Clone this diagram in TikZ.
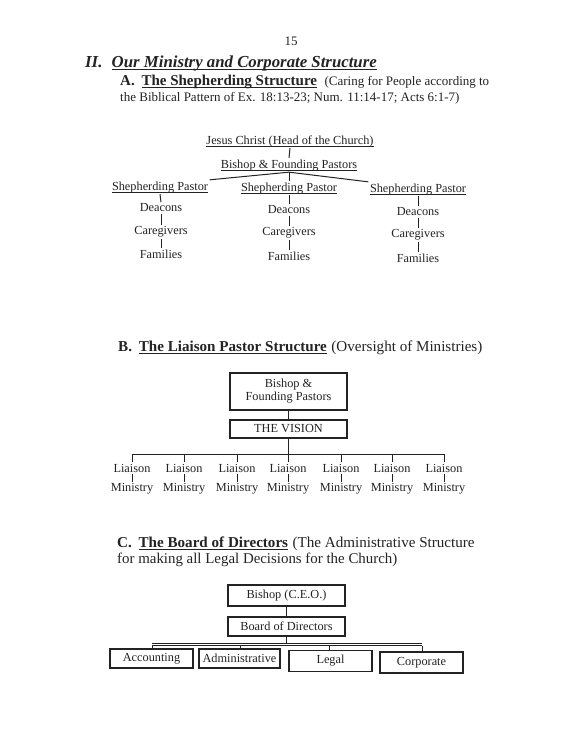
\documentclass[tikz,border=0pt]{standalone}
\usepackage{fontspec}
\newfontfamily\tnr{Liberation Serif}
\definecolor{ink}{RGB}{35,35,35}
\newcommand\chfont{\tnr\fontsize{12.3}{14}\selectfont}
% underline through the descenders, as in the scan
\newcommand\ulx[3]{\vtop{\hbox{\raisebox{0pt}[\height][0pt]{#3}}\kern#2\hrule height #1}}
\begin{document}
\begin{tikzpicture}[x=1pt,y=-1pt,
  txt/.style={text=ink,inner sep=0pt},
  chtext/.style={font=\chfont,text=ink,inner sep=1.5pt},
  conn/.style={draw=ink,line width=1pt},
  boxb/.style={draw=ink,line width=1.3pt,font=\chfont,text=ink,inner sep=1pt,align=center},
  boxc/.style={draw=ink,line width=1.5pt,font=\chfont,text=ink,inner sep=1pt,align=center}]
\fill[white] (0,0) rectangle (575,744);
\useasboundingbox (0,0) rectangle (575,744);

% page number and headings
\node[txt] (pg) at (291,41) {\tnr\fontsize{13}{15}\selectfont 15};
\node[txt,anchor=base west] (h2) at (85,67) {\tnr\fontsize{16.8}{18}\selectfont\bfseries\itshape II.\hspace{0.55em}\ulx{1pt}{2.2pt}{Our Ministry and Corporate Structure}};
\node[txt,anchor=base west] (ha1) at (120,85) {\tnr\fontsize{15}{16}\selectfont\textbf{A.\hspace{0.45em}\ulx{1pt}{1.6pt}{The Shepherding Structure}}\hspace{0.5em}\fontsize{13}{14}\selectfont(Caring for People according to};
\node[txt,anchor=base west] (ha2) at (120,101.5) {\tnr\fontsize{13}{14}\selectfont the Biblical Pattern of Ex. 18:13-23; Num. 11:14-17; Acts 6:1-7)};

% chart A
\node[chtext] (jc) at (290,141) {\ulx{0.6pt}{1.8pt}{Jesus Christ (Head of the Church)}};
\node[chtext] (bp) at (289,165) {\ulx{0.6pt}{1.8pt}{Bishop \& Founding Pastors}};
\node[chtext] (sp1) at (160,187) {\ulx{0.6pt}{1.8pt}{Shepherding Pastor}};
\node[chtext] (sp2) at (289,188) {\ulx{0.6pt}{1.8pt}{Shepherding Pastor}};
\node[chtext] (sp3) at (418,189) {\ulx{0.6pt}{1.8pt}{Shepherding Pastor}};
\node[chtext] (d1) at (161,208) {Deacons};
\node[chtext] (c1) at (161,232) {Caregivers};
\node[chtext] (f1) at (161,254) {Families};
\node[chtext] (d2) at (289,210) {Deacons};
\node[chtext] (c2) at (289,233) {Caregivers};
\node[chtext] (f2) at (289,256) {Families};
\node[chtext] (d3) at (418,212) {Deacons};
\node[chtext] (c3) at (418,235) {Caregivers};
\node[chtext] (f3) at (418,258) {Families};
\draw[conn] (jc.south) -- (bp.north);
\draw[conn] (bp.south) -- (sp1.north east);
\draw[conn] (bp.south) -- (sp2.north);
\draw[conn] (bp.south) -- (sp3.north west);
\foreach \i in {1,2,3}{
  \draw[conn] (sp\i.south) -- (d\i.north);
  \draw[conn] (d\i.south) -- (c\i.north);
  \draw[conn] (c\i.south) -- (f\i.north);
}

% heading B
\node[txt,anchor=base west] (hb) at (118,351) {\tnr\fontsize{15.1}{18}\selectfont\textbf{B.\hspace{0.45em}\ulx{1pt}{1.8pt}{The Liaison Pastor Structure}}\hspace{0.3em}(Oversight of Ministries)};

% chart B
\node[boxb,minimum width=117pt,minimum height=37pt] (bfp) at (288.5,391.5) {Bishop \&\\[-1pt]Founding Pastors};
\node[boxb,minimum width=117pt,minimum height=18pt] (vis) at (288.5,429) {THE VISION};
\draw[conn] (bfp.south) -- (vis.north);
\coordinate (busb) at (288.5,454);
\coordinate (bbl) at (132,454);
\coordinate (bbr) at (444,454);
\draw[conn] (vis.south) -- (busb);
\draw[conn] (bbl) -- (bbr);
\foreach \x [count=\i] in {132,184,237,288,341,392,444}{
  \node[chtext] (l\i) at (\x,468) {Liaison};
  \node[chtext] (m\i) at (\x,489) {Ministry};
  \coordinate (t\i) at (\x,454);
  \draw[conn] (t\i) -- (l\i.north);
  \draw[conn] (l\i.south) -- (m\i.north);
}

% heading C
\node[txt,anchor=base west] (hc1) at (117,547) {\tnr\fontsize{15.1}{18}\selectfont\textbf{C.\hspace{0.45em}\ulx{1pt}{1.8pt}{The Board of Directors}}\hspace{0.3em}(The Administrative Structure};
\node[txt,anchor=base west] (hc2) at (117,563.5) {\tnr\fontsize{14.9}{18}\selectfont for making all Legal Decisions for the Church)};

% chart C
\node[boxc,minimum width=117pt,minimum height=21pt] (ceo) at (286.5,595.5) {Bishop (C.E.O.)};
\node[boxc,minimum width=117pt,minimum height=19pt] (bod) at (286.5,626.5) {Board of Directors};
\draw[conn] (ceo.south) -- (bod.north);
\coordinate (busc) at (286.5,643);
\draw[conn] (bod.south) -- (busc);
\coordinate (cbl) at (152,644.5);
\coordinate (cbr) at (422,644.5);
\draw[draw=ink,line width=0.7pt,double,double distance=1.6pt] (cbl) -- (cbr);
\node[boxc,minimum width=83pt,minimum height=19pt] (acc) at (151.5,658.5) {Accounting};
\node[boxc,minimum width=81pt,minimum height=19pt] (adm) at (239.5,658.5) {Administrative};
\node[boxc,minimum width=83pt,minimum height=21pt] (leg) at (330.5,661) {Legal};
\node[boxc,minimum width=83pt,minimum height=21pt] (cor) at (421.5,662.5) {Corporate};
\coordinate (k1) at (152,646);
\coordinate (k2) at (240,646);
\coordinate (k3) at (329,646);
\coordinate (k4) at (422,646);
\draw[conn,line width=0.8pt] (k1) -- (acc.north -| k1);
\draw[conn,line width=0.8pt] (k2) -- (adm.north -| k2);
\draw[conn,line width=0.8pt] (k3) -- (leg.north -| k3);
\draw[conn,line width=0.8pt] (k4) -- (cor.north -| k4);
\end{tikzpicture}
\end{document}
